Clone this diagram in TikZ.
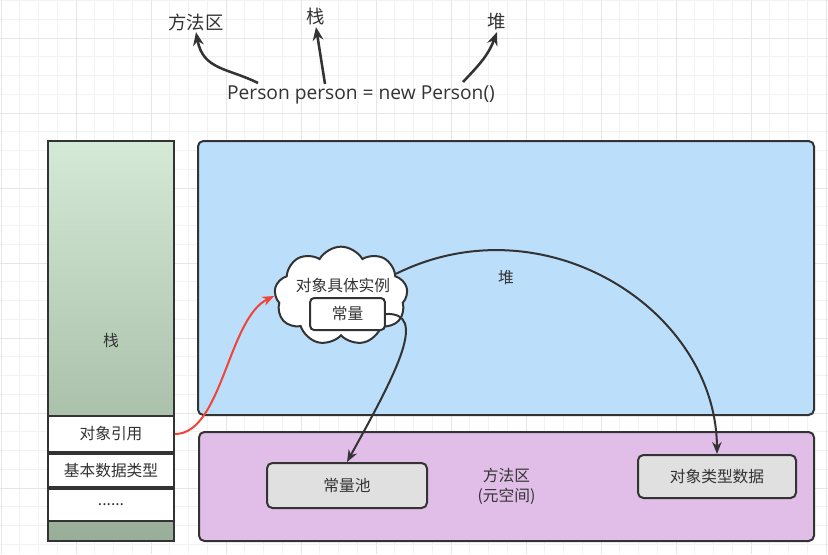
\documentclass[tikz,border=0pt]{standalone}
\usepackage{fontspec}
\setmainfont{Noto Sans CJK SC}
\newfontfamily\latinfont{Open Sans}
\usetikzlibrary{shapes.symbols,arrows.meta}
\definecolor{ink}{HTML}{333333}
\definecolor{gridminor}{HTML}{F2F2F2}
\definecolor{gridmajor}{HTML}{E6E6E6}
\definecolor{heapblue}{HTML}{BBDEFA}
\definecolor{methpurple}{HTML}{E1BEE7}
\definecolor{boxgray}{HTML}{E0E0E0}
\definecolor{stacktop}{HTML}{D5EAD6}
\definecolor{stackbot}{HTML}{98AE98}
\definecolor{refred}{HTML}{F04438}
\tikzset{
  area/.style={draw=ink, line width=1.5pt, rounded corners=4pt, inner sep=0pt, text=ink, align=center, font=\fontsize{11.8}{15}\selectfont},
  cell/.style={draw=ink, line width=1.5pt, fill=white, inner sep=0pt, minimum width=94.5pt, text=ink, font=\fontsize{11.8}{14}\selectfont},
  grayb/.style={draw=ink, line width=1.5pt, rounded corners=4pt, fill=boxgray, inner sep=0pt, text=ink, font=\fontsize{11.8}{14}\selectfont},
  toplabel/.style={text=ink, inner sep=1pt, font=\fontsize{13.8}{16}\selectfont},
  conn/.style={draw=ink, line width=1.5pt, -{Stealth[length=9pt,width=7pt]}},
  topconn/.style={draw=ink, line width=1.9pt, -{Stealth[length=10pt,width=8pt]}},
}
\begin{document}
\begin{tikzpicture}[x=0.75pt,y=-0.75pt]
\useasboundingbox (0,0) rectangle (828,554);
\fill[white] (0,0) rectangle (828,554);
% grid
\foreach \i in {0,...,44} {
  \draw[gridminor, line width=0.6pt] ({1+18.75*\i},0) -- ({1+18.75*\i},554);
}
\foreach \i in {0,...,29} {
  \draw[gridminor, line width=0.6pt] (0,{0.5+18.75*\i}) -- (828,{0.5+18.75*\i});
}
\foreach \i in {0,...,11} {
  \draw[gridmajor, line width=0.7pt] ({1+75*\i},0) -- ({1+75*\i},554);
}
\foreach \i in {0,...,7} {
  \draw[gridmajor, line width=0.7pt] (0,{38+75*\i}) -- (828,{38+75*\i});
}

% top labels
\node[toplabel] (lmeth) at (196,22) {方法区};
\node[toplabel] (lstack) at (316,17) {栈};
\node[toplabel] (lheap) at (497,22) {堆};
\node[text=ink, inner sep=1pt, font=\latinfont\fontsize{14.4}{16}\selectfont] (code) at (361,95) {Person person = new Person()};
\coordinate (t1) at (258,83);
\coordinate (t2) at (325,84);
\coordinate (t3) at (463,82);
\draw[topconn] (t1) .. controls (228,68) and (203,70) .. (lmeth.south);
\draw[topconn] (t2) -- (lstack.south);
\draw[topconn] (t3) .. controls (478,66) and (488,56) .. (lheap.south);

% stack
\node[draw=ink, line width=1.5pt, top color=stacktop, bottom color=stackbot, minimum width=94.5pt, minimum height=300pt, inner sep=0pt, text=ink, font=\fontsize{11.8}{14}\selectfont] (stack) at (111,341) {栈};
\node[cell, minimum height=27pt] (ref) at (111,434) {对象引用};
\node[cell, minimum height=24.75pt] (prim) at (111,470.5) {基本数据类型};
\node[cell, minimum height=24pt] (dots) at (111,505) {......};

% heap and method area
\node[area, fill=heapblue, minimum width=462pt, minimum height=205.5pt] (heap) at (506,278) {堆};
\node[area, fill=methpurple, minimum width=461.25pt, minimum height=81.75pt] (meth) at (506.5,486.5) {方法区\\(元空间)};
\node[grayb, minimum width=120pt, minimum height=33.75pt] (pool) at (347,485.5) {常量池};
\node[grayb, minimum width=118.5pt, minimum height=32.25pt] (otype) at (717,476.5) {对象类型数据};

% cloud
\node[cloud, draw=ink, line width=1.5pt, fill=white, cloud puffs=9, cloud puff arc=120, aspect=1.4, minimum width=100pt, minimum height=74pt, inner sep=0pt] (obj) at (341,296) {};
\node[text=ink, inner sep=0pt, font=\fontsize{11.8}{14}\selectfont] (objlabel) at (343,285) {对象具体实例};
\node[draw=ink, line width=1.5pt, fill=white, rounded corners=3pt, minimum width=56pt, minimum height=24pt, inner sep=0pt, text=ink, font=\fontsize{11.8}{14}\selectfont] (const) at (347.5,314) {常量};

% connectors
\draw[line width=1.5pt, refred, -{Stealth[length=9pt,width=7pt]}] (ref.east) .. controls (222,434) and (228,318) .. (obj.west);
\draw[conn] (obj.22) .. controls (545,200) and (716,310) .. (otype.north);
\draw[conn] (const.east) .. controls (428,312) and (398,370) .. (pool.north);
\end{tikzpicture}
\end{document}
